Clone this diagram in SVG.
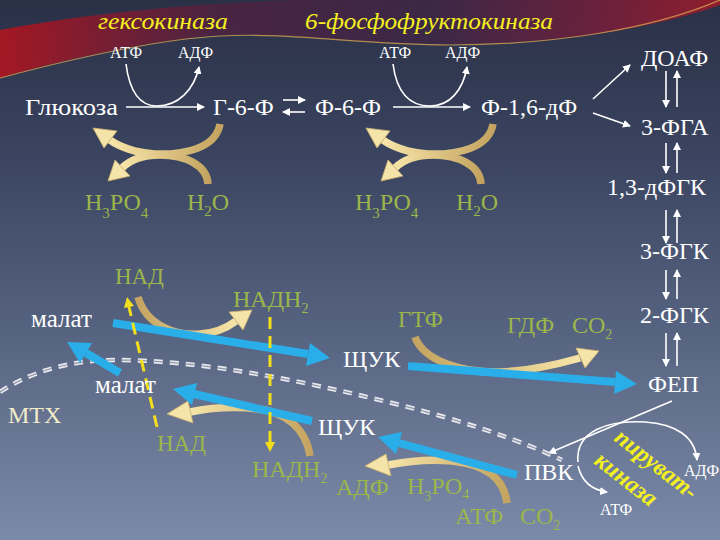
<svg xmlns="http://www.w3.org/2000/svg" width="720" height="540" viewBox="0 0 720 540">
<defs>
<linearGradient id="bg" x1="0" y1="0" x2="0" y2="1">
<stop offset="0" stop-color="#2a3046"/>
<stop offset="0.3" stop-color="#3b4561"/>
<stop offset="0.6" stop-color="#55627f"/>
<stop offset="1" stop-color="#7b8aa9"/>
</linearGradient>
<linearGradient id="red" x1="0" y1="0" x2="1" y2="0">
<stop offset="0" stop-color="#b8121c"/>
<stop offset="0.3" stop-color="#4e2240"/>
<stop offset="0.6" stop-color="#3e2646"/>
<stop offset="0.85" stop-color="#7a1d38"/>
<stop offset="1" stop-color="#a01a28"/>
</linearGradient>
<linearGradient id="ygr" x1="0" y1="0" x2="1" y2="0">
<stop offset="0" stop-color="#f6e4a8"/>
<stop offset="1" stop-color="#c4a460"/>
</linearGradient>
<linearGradient id="ygl" x1="0" y1="0" x2="1" y2="0">
<stop offset="0" stop-color="#c4a460"/>
<stop offset="1" stop-color="#f6e4a8"/>
</linearGradient>
<marker id="wa" markerWidth="8" markerHeight="8" refX="7" refY="4" orient="auto" markerUnits="userSpaceOnUse">
<path d="M0,0 L8,4 L0,8 Z" fill="#ffffff"/>
</marker>
<style>
text{font-family:'Liberation Serif','DejaVu Serif','Noto Serif','Times New Roman',serif}
.n{fill:#ffffff}
.g{fill:#9cb64c}
.t{font-style:italic;fill:#f4f020}
.wa{fill:none;stroke:#ffffff;stroke-width:1.6;marker-end:url(#wa)}
.y{fill:none;stroke:url(#ygr);stroke-width:7.5;stroke-linecap:butt}
.yr{fill:none;stroke:url(#ygl);stroke-width:7.5;stroke-linecap:butt}
.yh{fill:#f5e4aa;stroke:#c9ae6e;stroke-width:0.8}
.b{fill:none;stroke:#2aaee9;stroke-width:8}
.bh{fill:#2aaee9}
.yd{fill:none;stroke:#f2de1a;stroke-width:3;stroke-dasharray:12 7}
.ydh{fill:#f2de1a}
</style>
</defs>
<rect width="720" height="540" fill="url(#bg)"/>
<path d="M0,30 C80,15 180,4 300,0 L720,0 L720,5 C650,30 550,44 450,44 C360,44 290,32 220,35 C150,40 60,60 0,78 Z" fill="url(#red)" opacity="0.85"/>
<path d="M0,78 C60,62 150,40 220,36 C290,32 360,45 450,45 C550,45 650,30 720,0" fill="none" stroke="#d8a050" stroke-width="1.2" opacity="0.8"/>

<g id="connectors">
<path class="wa" d="M126,107 L204,107"/>
<path class="wa" d="M126,64 C130,95 142,106 157,106 C178,106 194,90 199,67"/>
<path class="wa" d="M283,100 L305,100"/>
<path class="wa" d="M305,112 L283,112"/>
<path class="wa" d="M393,107 L470,107"/>
<path class="wa" d="M393,64 C397,95 412,106 430,106 C450,106 463,90 467,67"/>
<path class="wa" d="M593,99 L630,65"/>
<path class="wa" d="M593,113 L630,126"/>
<path class="wa" d="M666,71 L666,107"/><path class="wa" d="M677,107 L677,71"/>
<path class="wa" d="M666,143 L666,173"/><path class="wa" d="M677,173 L677,143"/>
<path class="wa" d="M666,210 L666,243"/><path class="wa" d="M677,243 L677,210"/>
<path class="wa" d="M666,270 L666,299"/><path class="wa" d="M677,299 L677,270"/>
<path class="wa" d="M666,333 L666,366"/><path class="wa" d="M677,366 L677,333"/>
<path class="wa" d="M672,401 L549,453"/>
<path class="wa" d="M578,462 C575,430 610,420 645,422 C675,424 695,436 697,460"/>
<path class="wa" d="M578,466 C582,482 592,490 607,492"/>

<path class="y" d="M220,124 C216,148 185,155 155,154 C135,153 118,146 110,140"/>
<polygon class="yh" points="93,128 117,131 104,148"/>
<path class="y" d="M208,184 C207,165 185,155 160,155 C140,155 128,162 122,168"/>
<polygon class="yh" points="108,181 130,176 115,160"/>
<path class="y" d="M493,124 C489,148 458,155 428,154 C408,153 391,146 383,140"/>
<polygon class="yh" points="366,128 390,131 377,148"/>
<path class="y" d="M481,184 C480,165 458,155 433,155 C413,155 401,162 395,168"/>
<polygon class="yh" points="381,181 403,176 388,160"/>

<path d="M0,392 C30,372 70,360 115,360 C200,360 300,380 400,405 C460,420 520,440 562,460" fill="none" stroke="#e8e8ee" stroke-width="4.5" stroke-dasharray="9 7"/>
<path d="M0,392 C30,372 70,360 115,360 C200,360 300,380 400,405 C460,420 520,440 562,460" fill="none" stroke="#8a93a8" stroke-width="1.2" stroke-dasharray="9 7"/>

<path class="yr" d="M138,297 C146,325 175,336 200,334 C216,333 228,327 236,321"/>
<polygon class="yh" points="252,310 243,330 229,312"/>
<path class="yr" d="M415,337 C424,362 465,373 500,372 C530,371 555,365 580,358"/>
<polygon class="yh" points="599,351 585,368 576,348"/>
<path class="y" d="M310,456 C306,428 285,412 258,409 C232,406 210,408 190,412"/>
<polygon class="yh" points="167,414 193,423 188,401"/>
<path class="y" d="M507,503 C504,476 482,464 452,461 C432,459 408,461 388,465"/>
<polygon class="yh" points="365,466 391,476 386,454"/>

<path class="b" d="M113,323 L308,354"/>
<polygon class="bh" points="330,358 306,366 310,343"/>
<path class="b" d="M408,366 L615,382"/>
<polygon class="bh" points="637,384 614,394 616,371"/>
<path class="b" d="M120,373 L86,353"/>
<polygon class="bh" points="67,342 92,343 80,363"/>
<path class="b" d="M312,421 L194,394"/>
<polygon class="bh" points="173,389 197,383 192,405"/>
<path class="b" d="M517,475 L399,443"/>
<polygon class="bh" points="378,437 402,432 396,454"/>

<path class="yd" d="M157,427 L129,307"/>
<polygon class="ydh" points="127,297 134,306 124,308"/>
<path class="yd" d="M270,317 L270,442"/>
<polygon class="ydh" points="270,452 265,442 275,442"/>
</g>

<g id="hexokinase"><text class="t" x="98" y="29" font-size="24" textLength="130" lengthAdjust="spacingAndGlyphs">гексокиназа</text></g>
<g id="pfk"><text class="t" x="305" y="29" font-size="24" textLength="248" lengthAdjust="spacingAndGlyphs">6-фосфофруктокиназа</text></g>
<g id="atf1"><text class="n" x="110" y="58" font-size="16">АТФ</text></g>
<g id="adf1"><text class="n" x="178" y="58" font-size="16">АДФ</text></g>
<g id="atf2"><text class="n" x="379" y="58" font-size="16">АТФ</text></g>
<g id="adf2"><text class="n" x="445" y="58" font-size="16">АДФ</text></g>
<g id="glucose"><text class="n" x="25" y="115" font-size="24" textLength="93" lengthAdjust="spacingAndGlyphs">Глюкоза</text></g>
<g id="g6p"><text class="n" x="213" y="115" font-size="24">Г-6-Ф</text></g>
<g id="f6p"><text class="n" x="315" y="115" font-size="24">Ф-6-Ф</text></g>
<g id="f16dp"><text class="n" x="481" y="115" font-size="24">Ф-1,6-дФ</text></g>
<g id="doaf"><text class="n" x="641" y="66" font-size="24">ДОАФ</text></g>
<g id="fga"><text class="n" x="641" y="135" font-size="24">3-ФГА</text></g>
<g id="dfgk"><text class="n" x="607" y="195" font-size="24">1,3-дФГК</text></g>
<g id="fgk3"><text class="n" x="640" y="259" font-size="24">3-ФГК</text></g>
<g id="fgk2"><text class="n" x="640" y="323" font-size="24">2-ФГК</text></g>
<g id="fep"><text class="n" x="648" y="392" font-size="24">ФЕП</text></g>
<g id="h3po4-1"><text class="g" x="85" y="210" font-size="24">Н<tspan font-size="15" dy="8">3</tspan><tspan dy="-8">РО</tspan><tspan font-size="15" dy="8">4</tspan></text></g>
<g id="h2o-1"><text class="g" x="187" y="210" font-size="24">Н<tspan font-size="15" dy="6">2</tspan><tspan dy="-6">О</tspan></text></g>
<g id="h3po4-2"><text class="g" x="355" y="210" font-size="24">Н<tspan font-size="15" dy="8">3</tspan><tspan dy="-8">РО</tspan><tspan font-size="15" dy="8">4</tspan></text></g>
<g id="h2o-2"><text class="g" x="456" y="210" font-size="24">Н<tspan font-size="15" dy="6">2</tspan><tspan dy="-6">О</tspan></text></g>
<g id="nad1"><text class="g" x="115" y="284" font-size="23">НАД</text></g>
<g id="nadh1"><text class="g" x="233" y="307" font-size="24">НАДН<tspan font-size="14" dy="6">2</tspan></text></g>
<g id="malate1"><text class="n" x="31" y="327" font-size="25">малат</text></g>
<g id="oaa1"><text class="n" x="343" y="367" font-size="24">ЩУК</text></g>
<g id="gtf"><text class="g" x="398" y="327" font-size="23">ГТФ</text></g>
<g id="gdf"><text class="g" x="507" y="333" font-size="24">ГДФ</text></g>
<g id="co2-1"><text class="g" x="572" y="333" font-size="24">СО<tspan font-size="14" dy="6">2</tspan></text></g>
<g id="malate2"><text class="n" x="95" y="393" font-size="25">малат</text></g>
<g id="mtx"><text class="n" x="8" y="423" font-size="24" style="fill:#f2ecc8">МТХ</text></g>
<g id="nad2"><text class="g" x="157" y="451" font-size="23">НАД</text></g>
<g id="oaa2"><text class="n" x="318" y="435" font-size="24">ЩУК</text></g>
<g id="nadh2"><text class="g" x="252" y="477" font-size="24">НАДН<tspan font-size="14" dy="6">2</tspan></text></g>
<g id="adf3"><text class="g" x="336" y="495" font-size="24">АДФ</text></g>
<g id="h3po4-3"><text class="g" x="407" y="494" font-size="24">Н<tspan font-size="14" dy="7">3</tspan><tspan dy="-7">РО</tspan><tspan font-size="14" dy="5">4</tspan></text></g>
<g id="atf3"><text class="g" x="455" y="524" font-size="24">АТФ</text></g>
<g id="co2"><text class="g" x="520" y="524" font-size="24">СО<tspan font-size="14" dy="6">2</tspan></text></g>
<g id="pvk"><text class="n" x="524" y="480" font-size="24">ПВК</text></g>
<g id="adf4"><text class="n" x="684" y="476" font-size="16">АДФ</text></g>
<g id="atf4"><text class="n" x="600" y="515" font-size="16">АТФ</text></g>
<g id="pyruvatekinase">
<text class="t" font-size="24" font-weight="bold" transform="translate(613,440) rotate(38)">пируват-</text>
<text class="t" font-size="24" font-weight="bold" transform="translate(593,463) rotate(38)">киназа</text>
</g>
</svg>
